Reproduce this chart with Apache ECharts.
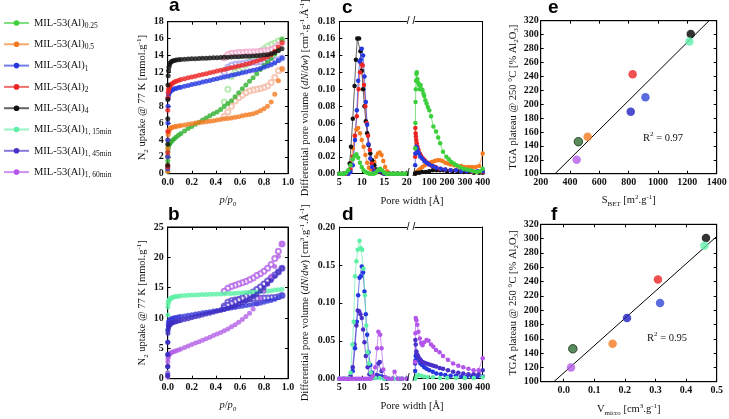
<!DOCTYPE html>
<html><head><meta charset="utf-8">
<script src="https://cdn.jsdelivr.net/npm/echarts@6/dist/echarts.min.js"></script>
<style>html,body{margin:0;padding:0;background:#fff}#c{width:729px;height:419px}</style>
</head><body><div id="c"></div>
<script>
// ---------- DATA ----------
const sampleKeys = ['0.25','0.5','1','2','4','1, 15min','1, 45min','1, 60min'];

// N2 isotherms (p/p0, uptake mmol/g)
const pAds = [0.0001,0.0003,0.0006,0.001,0.002,0.004,0.007,0.01,0.015,0.02,0.03,0.04,0.055,0.07,0.09,0.11,0.14,0.17,0.2,0.23,0.26,0.29,0.32,0.35,0.38,0.41,0.44,0.47,0.5,0.53,0.56,0.59,0.62,0.65,0.68,0.71,0.74,0.77,0.8,0.83,0.86,0.89,0.92,0.95];
const qAds025 = [0.3,0.8,1.5,2.1,2.7,3.05,3.3,3.45,3.55,3.65,3.8,3.95,4.15,4.35,4.55,4.75,5.05,5.35,5.6,5.85,6.1,6.35,6.6,6.85,7.1,7.3,7.6,7.95,8.3,8.65,9.1,9.6,10.05,10.5,10.95,11.35,11.85,12.35,12.8,13.2,13.65,14.15,14.7,15.9];
const qAds05 = [0.3,1,2,3,4.0,4.6,4.9,5.1,5.25,5.35,5.45,5.5,5.55,5.6,5.65,5.7,5.78,5.85,5.92,6.0,6.05,6.1,6.15,6.2,6.28,6.35,6.42,6.5,6.55,6.6,6.68,6.75,6.85,6.95,7.0,7.1,7.25,7.45,7.7,8.0,8.5,9.4,11.0,12.4];
const qAds1 = [0.6,2,4,6,8.0,8.9,9.3,9.5,9.65,9.75,9.85,9.95,10.05,10.1,10.2,10.25,10.35,10.45,10.55,10.65,10.75,10.85,10.95,11.05,11.15,11.25,11.35,11.45,11.55,11.65,11.75,11.85,11.95,12.05,12.15,12.25,12.35,12.45,12.6,12.75,12.9,13.1,13.4,13.7];
const qAds2 = [0.8,2.5,5,7.5,9.0,9.6,9.9,10.1,10.3,10.45,10.6,10.7,10.85,10.95,11.05,11.15,11.25,11.35,11.45,11.55,11.65,11.75,11.85,11.95,12.05,12.15,12.25,12.35,12.45,12.55,12.65,12.75,12.85,12.95,13.05,13.2,13.35,13.5,13.65,13.85,14.1,14.5,15.0,15.5];
const qAds4 = [1.0,3.5,6.5,8.8,10.5,11.6,12.2,12.6,12.9,13.1,13.25,13.35,13.4,13.45,13.5,13.52,13.55,13.57,13.6,13.62,13.64,13.66,13.68,13.7,13.72,13.74,13.76,13.78,13.8,13.82,13.84,13.86,13.88,13.9,13.92,13.95,13.98,14.0,14.05,14.1,14.2,14.35,14.55,14.8];
const qAds15 = [1,4,8,10.5,11.8,12.4,12.7,12.9,13.05,13.15,13.3,13.4,13.5,13.55,13.6,13.65,13.7,13.75,13.78,13.8,13.83,13.86,13.88,13.9,13.92,13.95,13.97,14.0,14.03,14.06,14.1,14.13,14.16,14.2,14.23,14.27,14.3,14.35,14.4,14.45,14.5,14.6,14.65,14.75];
const qAds45 = [0.5,2,4,6,7.5,8.2,8.5,8.7,8.85,8.95,9.1,9.2,9.3,9.4,9.5,9.6,9.75,9.9,10.05,10.2,10.35,10.5,10.65,10.8,10.95,11.1,11.25,11.4,11.6,11.8,12.0,12.25,12.5,12.8,13.1,13.5,13.9,14.4,15.0,15.6,16.2,16.9,17.6,18.2];
const qAds60 = [0.3,1,2,2.8,3.3,3.6,3.8,3.95,4.05,4.15,4.3,4.4,4.5,4.6,4.75,4.9,5.15,5.4,5.65,5.9,6.1,6.35,6.6,6.85,7.1,7.35,7.6,7.9,8.2,8.55,8.9,9.3,9.75,10.25,10.8,11.5,12.3,13.3,14.4,15.6,16.9,18.5,20.2,22.2];

const pDes = [0.95,0.92,0.89,0.86,0.83,0.8,0.77,0.74,0.71,0.68,0.65,0.62,0.59,0.56,0.53,0.5,0.47];
const qDes025 = [15.9,15.7,15.45,15.3,15.1,14.8,14.5,14.1,13.7,13.3,12.9,12.5,12.2,12.0,11.5,10.0,8.5];
const qDes05 = [12.4,12.2,11.4,10.8,10.4,10.2,10.1,10.0,9.9,9.8,9.6,9.3,9.0,8.6,8.0,7.3,6.8];
const qDes1 = [13.7,13.5,13.4,13.35,13.3,13.3,13.25,13.2,13.2,13.15,13.1,13.05,13.0,12.95,12.85,12.6,12.0];
const qDes2 = [15.5,15.2,14.9,14.7,14.6,14.55,14.5,14.45,14.45,14.4,14.4,14.35,14.35,14.3,14.25,14.1,13.7];
const qDes45 = [18.2,17.6,17.1,16.6,16.1,15.6,15.1,14.7,14.3,13.9,13.6,13.3,13.0,12.7,12.4,12.1,11.7];
const qDes60 = [22.2,21.0,19.8,18.8,18.2,17.7,17.3,17.0,16.6,16.3,16.0,15.8,15.6,15.4,15.2,14.9,14.4];

// Pore size distributions [pore width Å, dN/dw]; L = 5–20 Å segment, R = 20–400 Å segment
const psd025L = [[5,0],[5.5,0],[6,0],[6.5,0.001],[7,0.004],[7.5,0.01],[8,0.017],[8.4,0.021],[8.8,0.023],[9.2,0.019],[9.6,0.013],[10,0.008],[10.4,0.004],[10.8,0.002],[11.2,0.001],[11.7,0],[12.2,0],[12.7,0],[13.1,0.001],[13.6,0.004],[14.1,0.006],[14.5,0.004],[15,0.001],[15.5,0],[16,0],[16.5,0],[17,0],[17.5,0],[18,0],[18.5,0],[19,0],[19.5,0],[20,0]];
const psd025R = [[21,0.03],[22,0.06],[23,0.085],[24.5,0.1],[26,0.11],[28,0.118],[30,0.12],[33,0.112],[37,0.108],[42,0.105],[47,0.1],[52,0.105],[57,0.1],[62,0.099],[67,0.095],[72,0.092],[78,0.087],[85,0.083],[92,0.079],[100,0.075],[110,0.068],[123,0.056],[138,0.05],[150,0.043],[161,0.036],[177,0.026],[196,0.02],[210,0.017],[224,0.014],[238,0.012],[253,0.01],[272,0.008],[291,0.006],[310,0.005],[329,0.004],[348,0.003],[368,0.002],[385,0.003],[400,0.006]];
const psd05L = [[5,0],[6,0],[6.5,0],[7,0.002],[7.5,0.012],[8,0.03],[8.4,0.045],[8.8,0.052],[9.2,0.054],[9.6,0.048],[10,0.04],[10.4,0.032],[10.8,0.022],[11.2,0.013],[11.6,0.007],[12,0.005],[12.4,0.008],[12.8,0.014],[13.2,0.02],[13.6,0.024],[14,0.025],[14.4,0.022],[14.8,0.015],[15.2,0.008],[15.6,0.003],[16,0.001],[17,0],[18,0],[19,0],[20,0]];
const psd05R = [[21,0],[25,0.001],[30,0.002],[40,0.004],[50,0.006],[62,0.008],[75,0.01],[88,0.012],[100,0.013],[115,0.014],[130,0.015],[145,0.016],[160,0.016],[175,0.015],[190,0.013],[205,0.012],[220,0.011],[240,0.01],[260,0.009],[280,0.009],[300,0.008],[320,0.008],[340,0.008],[360,0.008],[380,0.009],[400,0.024]];
const psd1L = [[5,0],[6,0],[7,0],[7.5,0.002],[8,0.01],[8.5,0.04],[8.9,0.075],[9.2,0.11],[9.5,0.133],[9.8,0.135],[10.0,0.148],[10.3,0.14],[10.6,0.115],[10.9,0.085],[11.2,0.058],[11.5,0.035],[11.9,0.018],[12.3,0.008],[12.8,0.003],[13.3,0.002],[13.8,0.004],[14.3,0.003],[15,0],[16,0],[17,0],[18,0],[19,0],[20,0]];
const psd1R = [[21,0.01],[22,0.024],[24,0.03],[27,0.032],[31,0.03],[36,0.026],[42,0.024],[50,0.02],[60,0.018],[72,0.015],[85,0.013],[100,0.011],[120,0.009],[140,0.007],[165,0.006],[190,0.005],[220,0.004],[250,0.004],[280,0.003],[310,0.003],[340,0.003],[370,0.003],[400,0.003]];
const psd2L = [[5,0],[6,0],[7,0],[7.5,0.005],[8,0.02],[8.5,0.045],[8.9,0.068],[9.3,0.1],[9.6,0.12],[9.9,0.13],[10.2,0.128],[10.5,0.105],[10.8,0.08],[11.1,0.06],[11.4,0.045],[11.8,0.028],[12.2,0.012],[12.7,0.004],[13.3,0.002],[14,0.003],[15,0],[16,0],[17,0],[18,0],[19,0],[20,0]];
const psd2R = [[21,0.02],[22,0.054],[23.5,0.048],[25,0.044],[27,0.04],[30,0.036],[34,0.032],[40,0.028],[47,0.024],[55,0.021],[65,0.018],[75,0.016],[88,0.013],[100,0.011],[115,0.009],[135,0.008],[160,0.006],[190,0.005],[220,0.004],[250,0.004],[280,0.003],[310,0.003],[340,0.002],[370,0.002],[400,0.002]];
const psd4L = [[5,0],[6,0],[7,0.002],[7.3,0.012],[7.6,0.032],[8.0,0.065],[8.4,0.104],[8.7,0.135],[9.0,0.16],[9.4,0.16],[9.7,0.145],[10.0,0.122],[10.3,0.1],[10.6,0.08],[10.9,0.062],[11.2,0.048],[11.5,0.034],[11.9,0.024],[12.3,0.016],[12.8,0.01],[13.3,0.005],[13.8,0.002],[14.5,0.001],[15,0],[16,0],[17,0],[18,0],[19,0],[20,0]];
const psd4R = [[21,0],[30,0.001],[45,0.001],[60,0.002],[80,0.002],[100,0.003],[120,0.004],[140,0.004],[160,0.004],[180,0.004],[200,0.003],[230,0.003],[260,0.003],[290,0.002],[320,0.002],[350,0.001],[380,0.001],[400,0.001]];
const psd15L = [[5,0],[6,0],[7,0.001],[7.5,0.008],[7.9,0.045],[8.2,0.075],[8.5,0.135],[8.8,0.155],[9.1,0.17],[9.5,0.182],[9.8,0.172],[10.1,0.17],[10.4,0.145],[10.7,0.11],[11.0,0.07],[11.3,0.035],[11.6,0.02],[12,0.008],[12.5,0.003],[13,0.001],[14,0.001],[15,0],[16,0],[17,0],[18,0],[19,0],[20,0]];
const psd15R = [[21,0],[24,0.002],[30,0.004],[40,0.005],[55,0.004],[70,0.003],[90,0.002],[120,0.002],[160,0.001],[200,0.001],[250,0.001],[300,0.001],[350,0.001],[400,0.002]];
const psd45L = [[5,0],[6,0],[7,0],[7.5,0.004],[8,0.015],[8.4,0.045],[8.8,0.07],[9.1,0.09],[9.4,0.089],[9.7,0.085],[10.0,0.08],[10.3,0.065],[10.6,0.048],[10.9,0.03],[11.3,0.015],[11.7,0.006],[12.2,0.002],[12.8,0.001],[13.3,0.005],[13.7,0.02],[14.0,0.022],[14.4,0.01],[14.8,0.002],[15.5,0],[17,0],[18.5,0],[20,0]];
const psd45R = [[21,0.02],[22,0.051],[24,0.045],[28,0.036],[33,0.032],[39,0.029],[47,0.026],[54,0.024],[62,0.022],[72,0.021],[85,0.02],[96,0.019],[110,0.018],[123,0.017],[138,0.016],[158,0.014],[177,0.013],[205,0.011],[234,0.009],[263,0.008],[291,0.007],[320,0.006],[349,0.006],[377,0.006],[400,0.011]];
const psd60L = [[5,0],[5.5,0],[6,0],[6.5,0],[7,0],[7.5,0],[8,0],[8.5,0],[9,0],[9.5,0],[10,0],[10.5,0],[11,0],[11.5,0],[12,0],[12.5,0.004],[13,0.015],[13.4,0.04],[13.7,0.062],[14.1,0.058],[14.4,0.04],[14.8,0.012],[15.3,0.002],[16,0],[16.7,0],[17.3,0.009],[18,0],[19,0],[20,0]];
const psd60R = [[21,0.022],[22,0.06],[24,0.08],[28,0.077],[33,0.071],[39,0.062],[47,0.053],[54,0.047],[62,0.044],[72,0.048],[85,0.051],[96,0.05],[110,0.045],[123,0.042],[138,0.038],[158,0.035],[177,0.03],[205,0.025],[234,0.02],[263,0.017],[291,0.015],[320,0.013],[349,0.011],[377,0.011],[400,0.027]];

// Correlations (same order as sampleKeys)
const sBET = [457, 520, 914, 827, 1223, 1214, 814, 445];
const vMicro = [0.03, 0.16, 0.315, 0.308, 0.465, 0.46, 0.207, 0.024];
const tgaPlateau = [146, 153, 210, 243, 301, 290, 189, 120];
const fitE = [[298,100],[1348,320]];
const fitF = [[-0.032,100],[0.5,303]];
const r2E = '0.97', r2F = '0.95';

// Axis ticks
const xTicksR = [100,200,300,400];
const xTicksF = [0,0.1,0.2,0.3,0.4,0.5];

// ---------- STYLE ----------
const FONT = 'Liberation Serif';
const colors = {'0.25':'#3ccf3c','0.5':'#f47b20','1':'#2538e0','2':'#ec2424','4':'#111111','1, 15min':'#5cf0a6','1, 45min':'#4a30c8','1, 60min':'#b356ea'};
const paleA = {'0.25':'#a9e6a2','0.5':'#f4b9a4','1':'#aaa6ee','2':'#f2a9cc','4':'#888888'};
const colorsB = {'1':'#3a3ad8','1, 45min':'#3c2cc0','1, 60min':'#b461e6'};
const colorsE = {'0.25':'#2f6e35','0.5':'#f47b20','1':'#3147d6','2':'#ec2424','4':'#000000','1, 15min':'#62efaa','1, 45min':'#2020c4','1, 60min':'#b45cea'};
const nm = k => 'MIL-53(Al)|' + k;
const zip = (xs, ys) => xs.map((x,i)=>[x, ys[i]]);

const rich = {
  sub:{fontFamily:FONT,fontSize:7,lineHeight:9,verticalAlign:'bottom',color:'#111'},
  sup:{fontFamily:FONT,fontSize:7,lineHeight:9,verticalAlign:'top',color:'#111'},
  it:{fontFamily:FONT,fontSize:10.5,lineHeight:14,fontStyle:'italic',color:'#111'},
  itsub:{fontFamily:FONT,fontSize:7,lineHeight:9,verticalAlign:'bottom',fontStyle:'italic',color:'#111'}
};
const nameStyle = {fontFamily:FONT,fontSize:10.5,lineHeight:14,color:'#111',rich};
const lbl = extra => Object.assign({fontFamily:FONT,fontSize:10,fontWeight:'bold',color:'#111',margin:4}, extra||{});
const tick = extra => Object.assign({show:true,inside:true,length:3,lineStyle:{color:'#000',width:1}}, extra||{});
function ax(gridIndex, min, max, o){
  return Object.assign({type:'value',gridIndex,min,max,
    axisLine:{show:true,onZero:false,lineStyle:{color:'#000',width:1}},
    axisTick:tick(), splitLine:{show:false}, axisLabel:lbl(), nameTextStyle:nameStyle}, o);
}
const hid = {axisLabel:{show:false}, axisTick:{show:false}};
const mir = {axisLabel:{show:false}};
const plain = v => String(v);

const xAxis = [
  ax(0,0,1,{interval:0.2,axisLabel:lbl({formatter:v=>v.toFixed(1)}),name:'{it|p}/{it|p}{itsub|0}',nameLocation:'middle',nameGap:20}),
  ax(1,0,1,{interval:0.2,axisLabel:lbl({formatter:v=>v.toFixed(1)}),name:'{it|p}/{it|p}{itsub|0}',nameLocation:'middle',nameGap:20}),
  ax(2,5,20,{interval:5}),
  ax(3,20,400,{axisLabel:lbl({customValues:xTicksR}),axisTick:tick({customValues:xTicksR})}),
  ax(4,5,20,{interval:5}),
  ax(5,20,400,{axisLabel:lbl({customValues:xTicksR}),axisTick:tick({customValues:xTicksR})}),
  ax(6,200,1400,{interval:200,axisLabel:lbl({formatter:plain}),name:'S{sub|BET} [m{sup|2}.g{sup|-1}]',nameLocation:'middle',nameGap:20}),
  ax(7,-0.075,0.5,{axisLabel:lbl({customValues:xTicksF,formatter:v=>v.toFixed(1)}),axisTick:tick({customValues:xTicksF}),name:'V{sub|micro} [cm{sup|3}.g{sup|-1}]',nameLocation:'middle',nameGap:21}),
  ax(2,5,20,Object.assign({position:'top'},hid)),
  ax(3,20,400,Object.assign({position:'top'},hid)),
  ax(4,5,20,Object.assign({position:'top'},hid)),
  ax(5,20,400,Object.assign({position:'top'},hid)),
  ax(0,0,1,Object.assign({position:'top',interval:0.2},mir)),
  ax(1,0,1,Object.assign({position:'top',interval:0.2},mir)),
  ax(6,200,1400,Object.assign({position:'top',interval:200},mir)),
  ax(7,-0.075,0.5,Object.assign({position:'top',axisTick:tick({customValues:xTicksF})},mir))
];
const nameN2 = 'N{sub|2} uptake @ 77 K [mmol.g{sup|-1}]';
const namePSD = 'Differential pore volume ({it|dN}/{it|dw}) [cm{sup|3}.g{sup|-1}.Å{sup|-1}]';
const nameTGA = 'TGA plateau @ 250 °C [% Al{sub|2}O{sub|3}]';
const yAxis = [
  ax(0,0,18,{interval:2,name:nameN2,nameLocation:'middle',nameRotate:90,nameGap:18}),
  ax(1,0,25,{interval:5,name:nameN2,nameLocation:'middle',nameRotate:90,nameGap:18}),
  ax(2,0,0.18,{interval:0.02,axisLabel:lbl({formatter:v=>v.toFixed(2)}),name:namePSD,nameLocation:'middle',nameRotate:90,nameGap:27}),
  ax(3,0,0.18,Object.assign({position:'right'},hid)),
  ax(4,0,0.2,{interval:0.05,axisLabel:lbl({formatter:v=>v.toFixed(2)}),name:namePSD,nameLocation:'middle',nameRotate:90,nameGap:27}),
  ax(5,0,0.2,Object.assign({position:'right'},hid)),
  ax(6,100,320,{interval:20,axisLabel:lbl({margin:2}),name:nameTGA,nameLocation:'middle',nameRotate:90,nameGap:20}),
  ax(7,100,320,{interval:20,axisLabel:lbl({margin:2}),name:nameTGA,nameLocation:'middle',nameRotate:90,nameGap:20}),
  ax(0,0,18,Object.assign({position:'right',interval:2},mir)),
  ax(1,0,25,Object.assign({position:'right',interval:5},mir)),
  ax(6,100,320,Object.assign({position:'right',interval:20},mir)),
  ax(7,100,320,Object.assign({position:'right',interval:20},mir))
];

const gbase = {containLabel:false, outerBoundsMode:'none'};
const grid = [
  Object.assign({left:167.7,top:21.7,width:120.3,height:152,show:true,borderColor:'#000',borderWidth:1},gbase),
  Object.assign({left:167.7,top:227,width:120.3,height:151.7,show:true,borderColor:'#000',borderWidth:1},gbase),
  Object.assign({left:339.3,top:21.7,width:67.4,height:152},gbase),
  Object.assign({left:415,top:21.7,width:67.7,height:152},gbase),
  Object.assign({left:339.3,top:227,width:67.4,height:151.7},gbase),
  Object.assign({left:415,top:227,width:67.7,height:151.7},gbase),
  Object.assign({left:540.7,top:20.7,width:176,height:153,show:true,borderColor:'#000',borderWidth:1},gbase),
  Object.assign({left:540.7,top:224.3,width:176,height:157.4,show:true,borderColor:'#000',borderWidth:1},gbase)
];

// ---------- SERIES ----------
const series = [];
function psd(key, xi, yi, data){
  const c = colors[key];
  series.push({type:'line',name:nm(key),xAxisIndex:xi,yAxisIndex:yi,data,symbol:'circle',symbolSize:4.5,
    itemStyle:{color:c},lineStyle:{color:c,width:1,opacity:0.65},z:3});
}
const psdC = [['0.5',psd05L,psd05R],['4',psd4L,psd4R],['2',psd2L,psd2R],['1',psd1L,psd1R],['0.25',psd025L,psd025R]];
psdC.forEach(([k,L,R])=>{psd(k,2,2,L);psd(k,3,3,R);});
const psdD = [['1',psd1L,psd1R],['1, 45min',psd45L,psd45R],['1, 15min',psd15L,psd15R],['1, 60min',psd60L,psd60R]];
psdD.forEach(([k,L,R])=>{psd(k,4,4,L);psd(k,5,5,R);});

function iso(key, xi, data, color, empty){
  series.push({type:'scatter',name:nm(key),xAxisIndex:xi,yAxisIndex:xi,data,
    symbol:empty?'emptyCircle':'circle',symbolSize:5,
    itemStyle:empty?{color:color,borderColor:color,borderWidth:1}:{color:color},z:empty?2:3});
}
// panel a
iso('0.5',0,zip(pDes,qDes05),paleA['0.5'],true);
iso('0.25',0,zip(pDes,qDes025),paleA['0.25'],true);
iso('1',0,zip(pDes,qDes1),paleA['1'],true);
iso('2',0,zip(pDes,qDes2),paleA['2'],true);
iso('0.25',0,zip(pAds,qAds025),'#2fb030');
iso('0.5',0,zip(pAds,qAds05),colors['0.5']);
iso('1',0,zip(pAds,qAds1),colors['1']);
iso('2',0,zip(pAds,qAds2),colors['2']);
iso('4',0,zip(pAds,qAds4),colors['4']);
// panel b
iso('1',1,zip(pDes,qDes1),'#5a4ad0',true);
iso('1, 45min',1,zip(pDes,qDes45),'#5a3ed0',true);
iso('1, 60min',1,zip(pDes,qDes60),colorsB['1, 60min'],true);
iso('1, 15min',1,zip(pAds,qAds15),colors['1, 15min']);
iso('1, 60min',1,zip(pAds,qAds60),colorsB['1, 60min']);
iso('1',1,zip(pAds,qAds1),colorsB['1']);
iso('1, 45min',1,zip(pAds,qAds45),colorsB['1, 45min']);

// panels e, f
sampleKeys.forEach((k,i)=>{
  const st = {color:colorsE[k]};
  if(k==='0.25'){st.borderColor='#0b2a0b';st.borderWidth=1;}
  series.push({type:'scatter',name:nm(k),xAxisIndex:6,yAxisIndex:6,data:[[sBET[i],tgaPlateau[i]]],symbolSize:8.5,itemStyle:st,z:4});
  series.push({type:'scatter',name:nm(k),xAxisIndex:7,yAxisIndex:7,data:[[vMicro[i],tgaPlateau[i]]],symbolSize:8.5,itemStyle:st,z:4});
});
series.push({type:'line',name:'fitE',xAxisIndex:6,yAxisIndex:6,data:fitE,symbol:'none',lineStyle:{color:'#000',width:1},z:2});
series.push({type:'line',name:'fitF',xAxisIndex:7,yAxisIndex:7,data:fitF,symbol:'none',lineStyle:{color:'#000',width:1},z:2});

// ---------- GRAPHIC ----------
const letter = (t,x,y)=>({type:'text',x,y,style:{text:t,fontFamily:'Liberation Sans',fontWeight:'bold',fontSize:19,fill:'#000',verticalAlign:'middle'}});
const brk = (x,y)=>({type:'text',x,y,style:{text:'/ /',fontFamily:'Liberation Sans',fontSize:10,fill:'#000',align:'center',verticalAlign:'middle'},z:10});
const txt = (t,x,y,align)=>({type:'text',x,y,style:{text:t,rich,fontFamily:FONT,fontSize:10.5,lineHeight:14,fill:'#111',align:align||'center',verticalAlign:'middle'}});
const graphic = [
  letter('a',169,6), letter('b',168,215), letter('c',342,8), letter('d',342,215), letter('e',548,8), letter('f',551,215),
  brk(411,21.7), brk(411,173.7), brk(411,227), brk(411,378.7),
  txt('Pore width [Å]',412,201.5), txt('Pore width [Å]',412,406),
  txt('R{sup|2} = '+r2E,643,138,'left'), txt('R{sup|2} = '+r2F,647,338,'left')
];

const option = {
  animation:false,
  textStyle:{fontFamily:FONT},
  legend:{orient:'vertical',left:3,top:16,padding:0,itemWidth:25,itemHeight:7,itemGap:7.3,selectedMode:false,
    data:sampleKeys.map(nm),
    formatter:n=>{const p=n.split('|');return p[0]+'{s|'+p[1]+'}';},
    textStyle:{fontFamily:FONT,fontSize:10.5,lineHeight:14,color:'#111',
      rich:{s:{fontFamily:FONT,fontSize:7.5,lineHeight:9,verticalAlign:'bottom',color:'#111'}}}},
  grid, xAxis, yAxis, series, graphic
};
const chart = echarts.init(document.getElementById('c'), null, {renderer:'canvas'});
chart.setOption(option);
</script>
</body></html>
